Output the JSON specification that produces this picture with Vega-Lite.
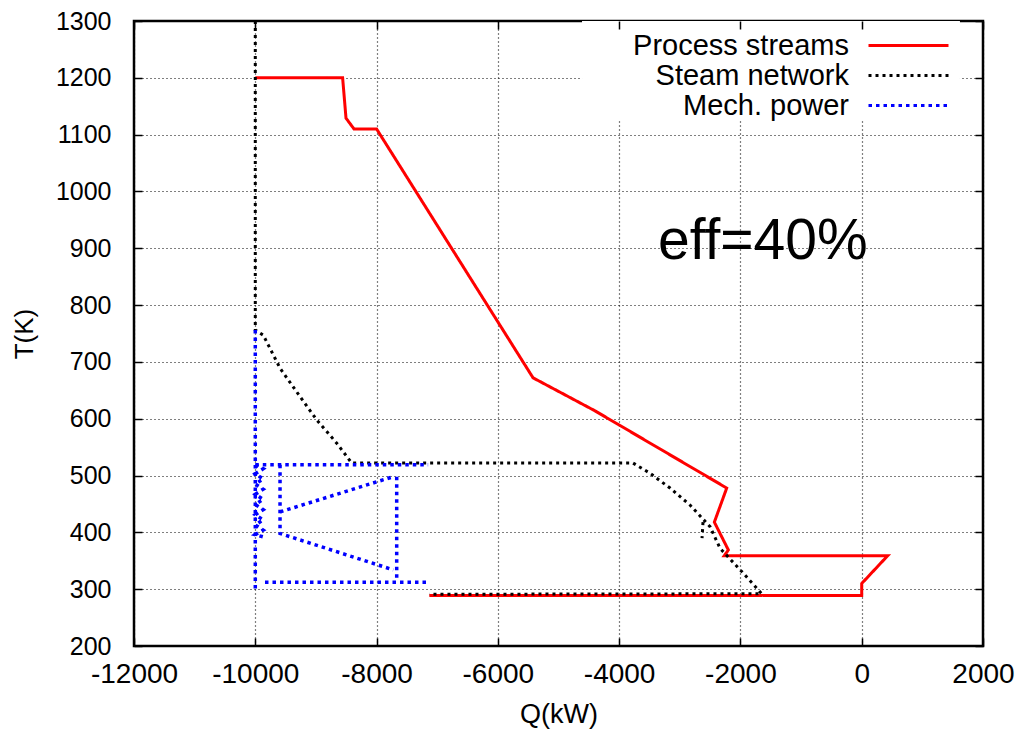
{
  "$schema": "https://vega.github.io/schema/vega-lite/v6.json",
  "width": 849,
  "height": 625,
  "autosize": {"type": "none"},
  "padding": {"left": 134, "top": 21, "right": 39, "bottom": 89},
  "background": "white",
  "config": {
    "view": {"stroke": "#000", "strokeWidth": 2.5},
    "font": "Liberation Sans",
    "axis": {"labelOverlap": false, "labelFlush": false, "labelExpr": "'' + datum.value"}
  },
  "datasets": {
    "curves": [
      {"series": "Process streams", "seg": "P1", "i": 1, "Q": -10000, "T": 1200},
      {"series": "Process streams", "seg": "P1", "i": 2, "Q": -8560, "T": 1200},
      {"series": "Process streams", "seg": "P1", "i": 3, "Q": -8504, "T": 1129},
      {"series": "Process streams", "seg": "P1", "i": 4, "Q": -8372, "T": 1110},
      {"series": "Process streams", "seg": "P1", "i": 5, "Q": -8000, "T": 1110},
      {"series": "Process streams", "seg": "P1", "i": 6, "Q": -5420, "T": 672},
      {"series": "Process streams", "seg": "P1", "i": 7, "Q": -4400, "T": 614},
      {"series": "Process streams", "seg": "P1", "i": 8, "Q": -2226, "T": 478},
      {"series": "Process streams", "seg": "P1", "i": 9, "Q": -2430, "T": 418},
      {"series": "Process streams", "seg": "P1", "i": 10, "Q": -2199, "T": 369},
      {"series": "Process streams", "seg": "P1", "i": 11, "Q": -2266, "T": 359},
      {"series": "Process streams", "seg": "P1", "i": 12, "Q": 429, "T": 359},
      {"series": "Process streams", "seg": "P1", "i": 13, "Q": 0, "T": 310},
      {"series": "Process streams", "seg": "P1", "i": 14, "Q": 0, "T": 289},
      {"series": "Process streams", "seg": "P1", "i": 15, "Q": -7130, "T": 289},

      {"series": "Steam network", "seg": "S1", "i": 1, "Q": -10000, "T": 1300},
      {"series": "Steam network", "seg": "S1", "i": 2, "Q": -10000, "T": 756},
      {"series": "Steam network", "seg": "S1", "i": 3, "Q": -9868, "T": 747},
      {"series": "Steam network", "seg": "S1", "i": 4, "Q": -9592, "T": 689},
      {"series": "Steam network", "seg": "S1", "i": 5, "Q": -9263, "T": 639},
      {"series": "Steam network", "seg": "S1", "i": 6, "Q": -8987, "T": 598},
      {"series": "Steam network", "seg": "S1", "i": 7, "Q": -8657, "T": 557},
      {"series": "Steam network", "seg": "S1", "i": 8, "Q": -8410, "T": 522},
      {"series": "Steam network", "seg": "S1", "i": 9, "Q": -3771, "T": 522},
      {"series": "Steam network", "seg": "S1", "i": 10, "Q": -3491, "T": 504},
      {"series": "Steam network", "seg": "S1", "i": 11, "Q": -3161, "T": 478},
      {"series": "Steam network", "seg": "S1", "i": 12, "Q": -2831, "T": 448},
      {"series": "Steam network", "seg": "S1", "i": 13, "Q": -2501, "T": 410},
      {"series": "Steam network", "seg": "S1", "i": 14, "Q": -2336, "T": 372},
      {"series": "Steam network", "seg": "S1", "i": 15, "Q": -1952, "T": 328},
      {"series": "Steam network", "seg": "S1", "i": 16, "Q": -1649, "T": 292},
      {"series": "Steam network", "seg": "S1", "i": 17, "Q": -7130, "T": 291},
      {"series": "Steam network", "seg": "S2", "i": 1, "Q": -2617, "T": 418},
      {"series": "Steam network", "seg": "S2", "i": 2, "Q": -2633, "T": 390},

      {"series": "Mech. power", "seg": "M1", "i": 1, "Q": -10000, "T": 756},
      {"series": "Mech. power", "seg": "M1", "i": 2, "Q": -10000, "T": 296},
      {"series": "Mech. power", "seg": "M2", "i": 1, "Q": -10000, "T": 519},
      {"series": "Mech. power", "seg": "M2", "i": 2, "Q": -7150, "T": 519},
      {"series": "Mech. power", "seg": "M3", "i": 1, "Q": -10000, "T": 519},
      {"series": "Mech. power", "seg": "M3", "i": 2, "Q": -9870, "T": 512},
      {"series": "Mech. power", "seg": "M3", "i": 3, "Q": -10000, "T": 503},
      {"series": "Mech. power", "seg": "M3", "i": 4, "Q": -9870, "T": 494},
      {"series": "Mech. power", "seg": "M3", "i": 5, "Q": -10000, "T": 485},
      {"series": "Mech. power", "seg": "M3", "i": 6, "Q": -9870, "T": 476},
      {"series": "Mech. power", "seg": "M3", "i": 7, "Q": -10000, "T": 467},
      {"series": "Mech. power", "seg": "M3", "i": 8, "Q": -9870, "T": 458},
      {"series": "Mech. power", "seg": "M3", "i": 9, "Q": -10000, "T": 449},
      {"series": "Mech. power", "seg": "M3", "i": 10, "Q": -9870, "T": 440},
      {"series": "Mech. power", "seg": "M3", "i": 11, "Q": -10000, "T": 431},
      {"series": "Mech. power", "seg": "M3", "i": 12, "Q": -9870, "T": 422},
      {"series": "Mech. power", "seg": "M3", "i": 13, "Q": -10000, "T": 413},
      {"series": "Mech. power", "seg": "M3", "i": 14, "Q": -9870, "T": 404},
      {"series": "Mech. power", "seg": "M3", "i": 15, "Q": -10000, "T": 396},
      {"series": "Mech. power", "seg": "M3", "i": 16, "Q": -9870, "T": 392},
      {"series": "Mech. power", "seg": "M4", "i": 1, "Q": -9592, "T": 519},
      {"series": "Mech. power", "seg": "M4", "i": 2, "Q": -9592, "T": 398},
      {"series": "Mech. power", "seg": "M4", "i": 3, "Q": -7724, "T": 334},
      {"series": "Mech. power", "seg": "M5", "i": 1, "Q": -9592, "T": 436},
      {"series": "Mech. power", "seg": "M5", "i": 2, "Q": -7724, "T": 498},
      {"series": "Mech. power", "seg": "M6", "i": 1, "Q": -7668, "T": 498},
      {"series": "Mech. power", "seg": "M6", "i": 2, "Q": -7668, "T": 316},
      {"series": "Mech. power", "seg": "M7", "i": 1, "Q": -9840, "T": 312},
      {"series": "Mech. power", "seg": "M7", "i": 2, "Q": -7119, "T": 312}
    ]
  },
  "data": {"name": "curves"},
  "resolve": {"axis": {"x": "independent", "y": "independent"}},
  "layer": [
    {
      "data": {"values": [{}]},
      "mark": {"type": "rect", "fill": "white"},
      "encoding": {
        "x": {"datum": -4612, "type": "quantitative", "scale": {"domain": [-12000, 2000], "nice": false},
          "axis": {"orient": "top", "values": [-12000, -10000, -8000, -6000, -4000, -2000, 0, 2000], "labels": false, "grid": false, "domain": false, "tickSize": -8, "tickColor": "#000", "tickWidth": 1.5, "title": null, "zindex": 1}},
        "x2": {"datum": 1620},
        "y": {"datum": 1300, "type": "quantitative", "scale": {"domain": [200, 1300], "nice": false},
          "axis": {"orient": "right", "values": [200, 300, 400, 500, 600, 700, 800, 900, 1000, 1100, 1200, 1300], "labels": false, "grid": false, "domain": false, "tickSize": -8, "tickColor": "#000", "tickWidth": 1.5, "title": null, "zindex": 1}},
        "y2": {"datum": 1124}
      }
    },
    {
      "transform": [{"filter": "datum.series === 'Process streams'"}],
      "mark": {"type": "line", "strokeWidth": 3, "strokeCap": "butt", "strokeJoin": "miter"},
      "encoding": {
        "x": {"field": "Q", "type": "quantitative", "scale": {"domain": [-12000, 2000], "nice": false},
          "axis": {"orient": "bottom", "values": [-12000, -10000, -8000, -6000, -4000, -2000, 0, 2000], "grid": true, "gridColor": "#000", "gridDash": [1, 3], "gridWidth": 1.2, "gridOpacity": 1, "domain": false, "tickSize": -8, "tickColor": "#000", "tickWidth": 1.5, "labelFontSize": 28, "labelColor": "#000", "labelPadding": 22, "title": "Q(kW)", "titleFontSize": 27, "titleFontWeight": "normal", "titleColor": "#000", "titlePadding": 13}},
        "y": {"field": "T", "type": "quantitative", "scale": {"domain": [200, 1300], "nice": false},
          "axis": {"orient": "left", "values": [200, 300, 400, 500, 600, 700, 800, 900, 1000, 1100, 1200, 1300], "grid": true, "gridColor": "#000", "gridDash": [1, 3], "gridWidth": 1.2, "gridOpacity": 1, "domain": false, "tickSize": -8, "tickColor": "#000", "tickWidth": 1.5, "labelFontSize": 25, "labelColor": "#000", "labelPadding": 31, "title": "T(K)", "titleFontSize": 26, "titleFontWeight": "normal", "titleColor": "#000", "titlePadding": 18}},
        "color": {"field": "series", "type": "nominal",
          "scale": {"domain": ["Process streams", "Steam network", "Mech. power"], "range": ["#ff0000", "#000000", "#0000ff"]},
          "legend": {"orient": "none", "legendX": 760, "legendY": 10, "title": null, "symbolType": "M-4,0H4", "symbolSize": 400, "symbolStrokeWidth": 3, "rowPadding": 0, "labelFontSize": 29, "labelColor": "#000", "labelAlign": "right", "labelOffset": -74, "labelLimit": 0, "padding": 0}},
        "strokeDash": {"field": "series", "type": "nominal",
          "scale": {"domain": ["Process streams", "Steam network", "Mech. power"], "range": [[1, 0], [3, 4], [3.5, 4]]}},
        "detail": {"field": "seg"},
        "order": {"field": "i", "type": "quantitative"}
      }
    },
    {
      "transform": [{"filter": "datum.series === 'Steam network'"}],
      "mark": {"type": "line", "strokeWidth": 3, "strokeCap": "butt"},
      "encoding": {
        "x": {"field": "Q", "type": "quantitative", "scale": {"domain": [-12000, 2000], "nice": false}, "axis": null},
        "y": {"field": "T", "type": "quantitative", "scale": {"domain": [200, 1300], "nice": false}, "axis": null},
        "color": {"field": "series", "type": "nominal"},
        "strokeDash": {"field": "series", "type": "nominal"},
        "detail": {"field": "seg"},
        "order": {"field": "i", "type": "quantitative"}
      }
    },
    {
      "transform": [{"filter": "datum.series === 'Mech. power'"}],
      "mark": {"type": "line", "strokeWidth": 3.5, "strokeCap": "butt"},
      "encoding": {
        "x": {"field": "Q", "type": "quantitative", "scale": {"domain": [-12000, 2000], "nice": false}, "axis": null},
        "y": {"field": "T", "type": "quantitative", "scale": {"domain": [200, 1300], "nice": false}, "axis": null},
        "color": {"field": "series", "type": "nominal"},
        "strokeDash": {"field": "series", "type": "nominal"},
        "detail": {"field": "seg"},
        "order": {"field": "i", "type": "quantitative"}
      }
    },
    {
      "data": {"values": [{"label": "eff=40%"}]},
      "mark": {"type": "text", "align": "left", "baseline": "alphabetic", "fontSize": 57, "font": "Liberation Sans", "color": "#000"},
      "encoding": {
        "x": {"datum": -3360, "type": "quantitative", "axis": null},
        "y": {"datum": 882, "type": "quantitative", "axis": null},
        "text": {"field": "label"}
      }
    }
  ]
}
